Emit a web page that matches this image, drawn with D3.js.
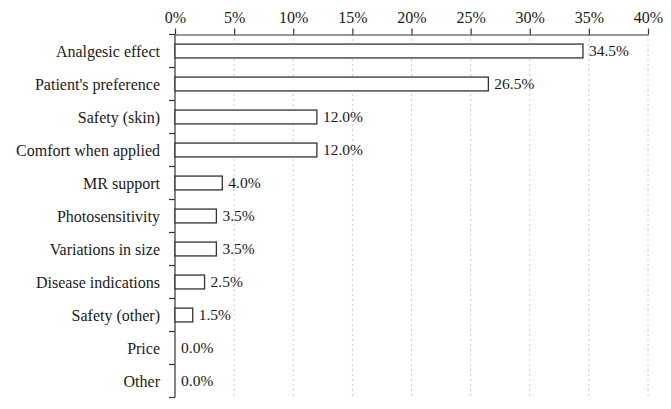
<!DOCTYPE html>
<html>
<head>
<meta charset="utf-8">
<script src="https://cdn.jsdelivr.net/npm/d3@7"></script>
<style>
    body { margin: 0; background: #fff; }
    text { font-family: "Liberation Serif", "DejaVu Serif", serif; fill: #1a1a1a; }
</style>
</head>
<body>
<svg id="Target" width="671" height="409"></svg>
<script>
const categories = ["Analgesic effect", "Patient's preference", "Safety (skin)", "Comfort when applied",
    "MR support", "Photosensitivity", "Variations in size", "Disease indications",
    "Safety (other)", "Price", "Other"];
const values = [34.5, 26.5, 12.0, 12.0, 4.0, 3.5, 3.5, 2.5, 1.5, 0.0, 0.0];
const xTicks = [0, 5, 10, 15, 20, 25, 30, 35, 40];

const data = categories.map((c, i) => ({ category: c, value: values[i] }));

const svg = d3.select("#Target");
const plotLeft = 175, plotRight = 648, plotTop = 34.5, plotBottom = 397.5;

const x = d3.scaleLinear().domain([0, 40]).range([plotLeft, plotRight]);
const y = d3.scaleBand()
    .domain(categories)
    .range([plotTop, plotBottom])
    .paddingInner(0.58)
    .paddingOuter(0.29);
const step = y.step();

// dotted gridlines
svg.selectAll("line.grid")
    .data(xTicks.slice(1))
    .enter()
    .append("line")
    .attr("x1", d => x(d))
    .attr("x2", d => x(d))
    .attr("y1", plotTop)
    .attr("y2", plotBottom)
    .attr("stroke", "#999")
    .attr("stroke-width", 1)
    .attr("stroke-dasharray", "1,4");

// top axis
const xAxis = d3.axisTop(x)
    .tickValues(xTicks)
    .tickFormat(d => d + "%")
    .tickSize(6)
    .tickSizeOuter(0);
const gx = svg.append("g")
    .attr("transform", `translate(0, ${plotTop})`)
    .call(xAxis);
gx.select(".domain").attr("stroke", "#333").attr("stroke-width", 1.2);
gx.selectAll(".tick line").attr("stroke", "#333").attr("stroke-width", 1.2);
gx.selectAll(".tick text")
    .attr("font-size", 16)
    .attr("font-family", "Liberation Serif")
    .attr("fill", "#1a1a1a")
    .attr("dy", "-0.15em");

// left axis line with ticks at category boundaries
svg.append("line")
    .attr("x1", plotLeft).attr("x2", plotLeft)
    .attr("y1", plotTop).attr("y2", plotBottom)
    .attr("stroke", "#333").attr("stroke-width", 1.2);
const boundaries = d3.range(categories.length + 1).map(i => plotTop + i * step);
svg.selectAll("line.ytick")
    .data(boundaries)
    .enter()
    .append("line")
    .attr("x1", plotLeft - 6).attr("x2", plotLeft)
    .attr("y1", d => d).attr("y2", d => d)
    .attr("stroke", "#333").attr("stroke-width", 1.2);

// category labels
svg.selectAll("text.cat")
    .data(data)
    .enter()
    .append("text")
    .attr("x", 160)
    .attr("y", d => y(d.category) + y.bandwidth() / 2)
    .attr("dy", "0.35em")
    .attr("text-anchor", "end")
    .attr("font-size", 16)
    .text(d => d.category);

// bars
svg.selectAll("rect.bar")
    .data(data.filter(d => d.value > 0))
    .enter()
    .append("rect")
    .attr("x", x(0))
    .attr("y", d => y(d.category))
    .attr("width", d => x(d.value) - x(0))
    .attr("height", y.bandwidth())
    .attr("fill", "#fff")
    .attr("stroke", "#333")
    .attr("stroke-width", 1.3);

// value labels
svg.selectAll("text.val")
    .data(data)
    .enter()
    .append("text")
    .attr("x", d => x(d.value) + 6)
    .attr("y", d => y(d.category) + y.bandwidth() / 2)
    .attr("dy", "0.35em")
    .attr("font-size", 15.5)
    .text(d => d.value.toFixed(1) + "%");
</script>
</body>
</html>
